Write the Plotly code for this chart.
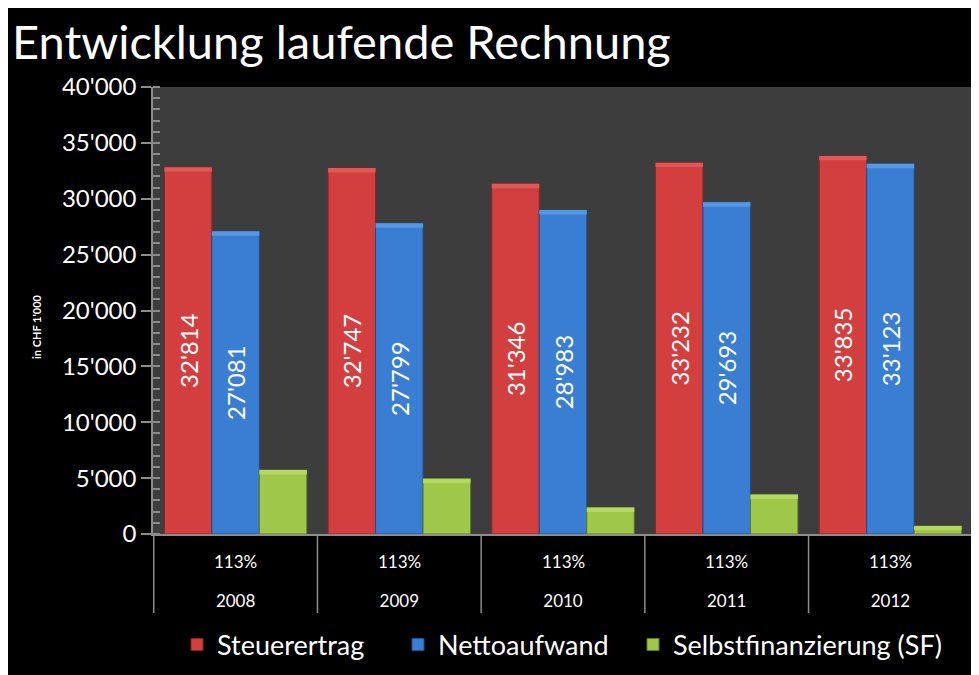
import plotly.graph_objects as go

# chart data (in CHF 1'000)
years = ["2008", "2009", "2010", "2011", "2012"]
ratios = ["113%", "113%", "113%", "113%", "113%"]
steuerertrag = [32814, 32747, 31346, 33232, 33835]
nettoaufwand = [27081, 27799, 28983, 29693, 33123]
selbstfinanzierung = [5733, 4948, 2363, 3539, 712]

seriesNames = ["Steuerertrag", "Nettoaufwand", "Selbstfinanzierung (SF)"]
seriesColors = ["#d33f3f", "#3a7ed3", "#9fc84a"]
lineColors = ["#8a2424", "#1f4e8c", "#5c7a22"]
bevelColors = ["#e05858", "#5897e2", "#b4d862"]

# the page body keeps its default 8px margin, so the figure is a bit smaller
pageOffset = 8
width, height = 979 - pageOffset, 675 - pageOffset
marginL, marginR, marginT, marginB = 145, 6, 79, 141
plotW = width - marginL - marginR
plotH = height - marginT - marginB
fontName = "Lato"
axisGray = "#8c8c8c"
bevelDepth = 400  # value units, roughly 4-5 px


# page pixel -> paper coordinates
def px2x(px):
    return (px - pageOffset - marginL) / plotW


def px2y(py):
    return (height - marginB - (py - pageOffset)) / plotH


fig = go.Figure()

values = [steuerertrag, nettoaufwand, selbstfinanzierung]
for i, (name, vals) in enumerate(zip(seriesNames, values)):
    showText = i < 2
    fig.add_trace(go.Bar(
        x=years, y=vals, name=name, offsetgroup=str(i),
        marker=dict(color=seriesColors[i], line=dict(color=lineColors[i], width=1)),
        texttemplate="%{y:,.0f}" if showText else None,
        textposition="inside" if showText else "none",
        insidetextanchor="middle",
        textangle=-90,
        constraintext="none",
        textfont=dict(family=fontName, size=24, color="white"),
        legend="legend" if i == 0 else "legend%d" % (i + 1),
        hoverinfo="skip",
    ))

# lighter band at the top of each bar for the bevel look
for i, vals in enumerate(values):
    depth = [min(bevelDepth, v * 0.5) for v in vals]
    fig.add_trace(go.Bar(
        x=years, y=depth, base=[v - d for v, d in zip(vals, depth)],
        offsetgroup=str(i), showlegend=False, hoverinfo="skip",
        marker=dict(color=bevelColors[i], line=dict(width=0)),
        textposition="none",
    ))

# category table separators below the axis
shapes = []
for i in range(len(years) + 1):
    shapes.append(dict(type="line", xref="x", yref="paper",
                       x0=i - 0.5, x1=i - 0.5, y0=0, y1=px2y(613),
                       line=dict(color=axisGray, width=1.5)))

annotations = [
    dict(text="in CHF 1'000", textangle=-90, showarrow=False,
         xref="paper", yref="paper", x=px2x(36), y=px2y(327),
         xanchor="center", yanchor="middle",
         font=dict(family=fontName, size=11, color="white", weight="bold")),
]
for i, ratio in enumerate(ratios):
    annotations.append(dict(text=ratio, showarrow=False, xref="x", yref="paper",
                            x=i, y=px2y(561), yanchor="middle",
                            font=dict(family=fontName, size=17, color="white")))

legendBase = dict(orientation="h", yref="paper", y=px2y(645), yanchor="middle",
                  xanchor="left", bgcolor="rgba(0,0,0,0)",
                  font=dict(family=fontName, size=27, color="white"))

fig.update_layout(
    width=width, height=height,
    margin=dict(l=marginL, r=marginR, t=marginT, b=marginB),
    paper_bgcolor="black",
    plot_bgcolor="#3d3d3d",
    separators=".'",
    barmode="group",
    bargap=0.13,
    bargroupgap=0,
    font=dict(family=fontName, color="white"),
    title=dict(text="Entwicklung laufende Rechnung", x=(12 - pageOffset) / width, xanchor="left",
               y=1 - (43 - pageOffset) / height, yanchor="middle", xref="container", yref="container",
               font=dict(family=fontName, size=47, color="white")),
    xaxis=dict(type="category", showline=True, linecolor=axisGray, linewidth=1.5,
               showgrid=False, ticks="", ticklabelstandoff=51, automargin=False,
               tickfont=dict(family=fontName, size=17, color="white")),
    yaxis=dict(range=[0, 40000], dtick=5000, tickformat=",", showgrid=False,
               zeroline=False, showline=True, linecolor=axisGray, linewidth=1.5,
               ticks="outside", ticklen=10, tickcolor=axisGray, tickwidth=1.5,
               automargin=False,
               minor=dict(dtick=1000, ticks="inside", ticklen=7, tickcolor=axisGray),
               tickfont=dict(family=fontName, size=24, color="white")),
    showlegend=True,
    legend=dict(legendBase, x=px2x(177)),
    legend2=dict(legendBase, x=px2x(398)),
    legend3=dict(legendBase, x=px2x(633)),
    shapes=shapes,
    annotations=annotations,
)

fig.write_html("out.html")
